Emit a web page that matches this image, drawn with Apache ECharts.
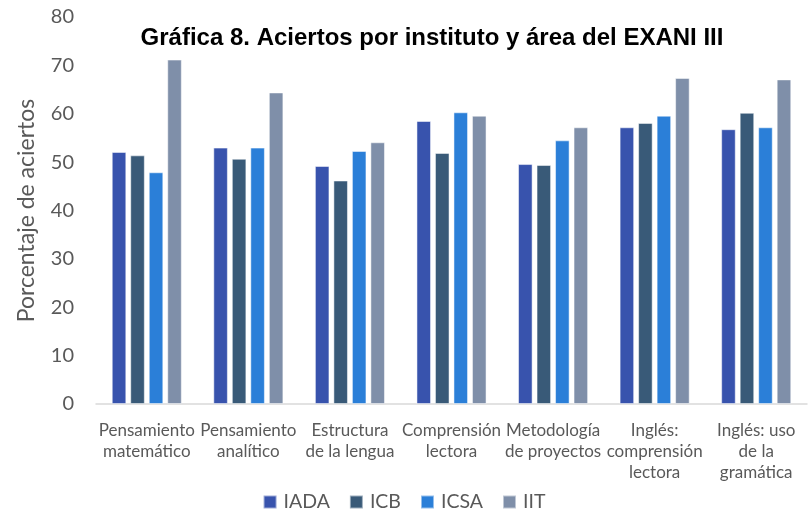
<!DOCTYPE html>
<html><head><meta charset="utf-8">
<script src="https://cdn.jsdelivr.net/npm/echarts@6/dist/echarts.min.js"></script>
<style>html,body{margin:0;padding:0;background:#fff}#c{width:808px;height:511px}</style>
</head><body><div id="c"></div>
<script>
const categories = ['Pensamiento\nmatemático','Pensamiento\nanalítico','Estructura\nde la lengua','Comprensión\nlectora','Metodología\nde proyectos','Inglés:\ncomprensión\nlectora','Inglés: uso\nde la\ngramática'];
const seriesNames = ['IADA','ICB','ICSA','IIT'];
const IADA = [52.1, 53.0, 49.2, 58.5, 49.6, 57.2, 56.8];
const ICB  = [51.4, 50.7, 46.2, 51.9, 49.4, 58.1, 60.2];
const ICSA = [47.9, 53.0, 52.3, 60.3, 54.5, 59.6, 57.2];
const IIT  = [71.2, 64.4, 54.1, 59.6, 57.2, 67.4, 67.1];
const yTicks = [0,10,20,30,40,50,60,70,80];
const colors = ['#3853AD','#395A78','#2B7FD8','#7F8FA9'];
const values = [IADA, ICB, ICSA, IIT];

const chart = echarts.init(document.getElementById('c'));
chart.setOption({
  animation:false,
  title:{text:'Gráfica 8. Aciertos por instituto y área del EXANI III', left:427, top:21, textAlign:'center',
    textStyle:{fontFamily:'Liberation Sans', fontWeight:'bold', fontSize:24, color:'#000'}},
  legend:{top:487, left:'center', itemWidth:13, itemHeight:13, itemGap:19, icon:'rect',
    textStyle:{fontFamily:'Lato', fontSize:19.5, color:'#595959', padding:[0,0,0,2]}, data:seriesNames},
  grid:{left:96, right:1, top:17, bottom:107},
  xAxis:{type:'category', data:categories,
    axisLine:{lineStyle:{color:'#D9D9D9', width:1.5}}, axisTick:{show:false},
    axisLabel:{interval:0, margin:16, fontFamily:'Lato', fontSize:17, lineHeight:21, color:'#595959'}},
  yAxis:{type:'value', min:yTicks[0], max:yTicks[yTicks.length-1], interval:10,
    name:'Porcentaje de aciertos', nameLocation:'middle', nameGap:58,
    nameTextStyle:{fontFamily:'Lato', fontSize:23, color:'#595959'},
    splitLine:{show:false}, axisLine:{show:false}, axisTick:{show:false},
    axisLabel:{fontFamily:'Lato', fontSize:20, color:'#595959', margin:22}},
  series: seriesNames.map((n,i)=>({name:n, type:'bar', data:values[i], barCategoryGap:'31%', barGap:'27%',
    itemStyle:{color:colors[i], borderColor:'rgba(255,255,255,0.5)', borderWidth:1}}))
});
</script></body></html>
